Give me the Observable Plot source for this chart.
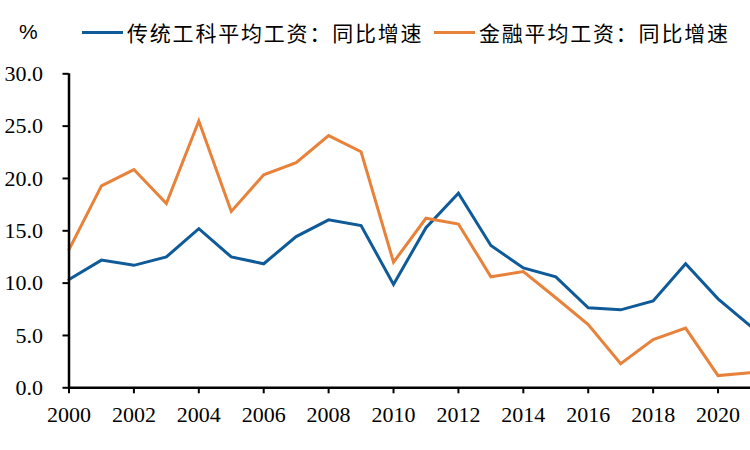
<!DOCTYPE html>
<html>
<head>
<meta charset="utf-8">
<script src="https://cdn.jsdelivr.net/npm/d3@7"></script>
<script src="https://cdn.jsdelivr.net/npm/@observablehq/plot@0.6"></script>
<style>
  html, body { margin: 0; padding: 0; background: #fff; }
  #wrap { width: 750px; height: 450px; position: relative; overflow: hidden; }
  #legend { position: relative; width: 750px; height: 60px; }
  .lg { position: absolute; white-space: nowrap; }
  .pct { left: 19px; top: 20px; font: 21px "Liberation Sans", Arial, sans-serif; color: #000; }
  .sw { position: absolute; height: 3px; top: 31px; }
  .txt { top: 17px; font: 21px "Noto Sans CJK SC", sans-serif; letter-spacing: 1.8px; color: #000; line-height: 30px; }
</style>
</head>
<body>
<div id="wrap">
  <div id="legend"></div>
  <div id="chart"></div>
</div>
<script>
const years = [2000,2001,2002,2003,2004,2005,2006,2007,2008,2009,2010,2011,2012,2013,2014,2015,2016,2017,2018,2019,2020,2021];
const engineering = [10.35,12.2,11.7,12.5,15.2,12.5,11.85,14.45,16.05,15.5,9.87,15.3,18.6,13.6,11.45,10.6,7.65,7.45,8.3,11.85,8.5,5.9];
const finance = [13.2,19.3,20.85,17.6,25.5,16.85,20.35,21.5,24.1,22.55,12.0,16.2,15.65,10.6,11.1,8.6,6.05,2.3,4.6,5.7,1.17,1.45];
const seriesNames = ["传统工科平均工资：同比增速", "金融平均工资：同比增速"];
const seriesColors = ["#0f5a98", "#e8823a"];
const yTicks = [0,5,10,15,20,25,30];
const xTicks = [2000,2002,2004,2006,2008,2010,2012,2014,2016,2018,2020];

const data = [];
years.forEach((y, i) => {
  data.push({year: y, value: engineering[i], series: seriesNames[0]});
  data.push({year: y, value: finance[i], series: seriesNames[1]});
});

// legend
const legend = document.getElementById("legend");
const pct = document.createElement("div");
pct.className = "lg pct"; pct.textContent = "%";
legend.appendChild(pct);
const legendPos = [{sw: 82, txt: 127}, {sw: 434, txt: 479}];
seriesNames.forEach((name, i) => {
  const sw = document.createElement("div");
  sw.className = "sw";
  sw.style.left = legendPos[i].sw + "px";
  sw.style.width = "41px";
  sw.style.background = seriesColors[i];
  legend.appendChild(sw);
  const t = document.createElement("div");
  t.className = "lg txt";
  t.style.left = legendPos[i].txt + "px";
  t.textContent = name;
  legend.appendChild(t);
});

const chart = Plot.plot({
  width: 750,
  height: 390,
  marginLeft: 68.5,
  marginRight: 0,
  marginTop: 13.3,
  marginBottom: 62.7,
  style: {fontFamily: "'Liberation Serif', 'Times New Roman', serif", fontSize: "22px", color: "#000", background: "#fff", overflow: "hidden"},
  x: {domain: [2000, 2021], label: null},
  y: {domain: [0, 30], label: null},
  color: {domain: seriesNames, range: seriesColors},
  marks: [
    Plot.axisY({ticks: yTicks, tickFormat: d => d.toFixed(1), tickSize: 6, tickPadding: 20, label: null, stroke: "#000", strokeWidth: 2}),
    Plot.axisX({ticks: xTicks, tickFormat: d => String(d), tickSize: 6, tickPadding: 13, label: null, stroke: "#000", strokeWidth: 2}),
    Plot.lineY(data, {x: "year", y: "value", z: "series", stroke: "series", strokeWidth: 3, strokeLinejoin: "miter", strokeMiterlimit: 4}),
    Plot.ruleY([0], {stroke: "#000", strokeWidth: 2.5}),
    Plot.ruleX([2000], {y1: 0, y2: 30, stroke: "#000", strokeWidth: 2.5})
  ]
});
document.getElementById("chart").appendChild(chart);
</script>
</body>
</html>
